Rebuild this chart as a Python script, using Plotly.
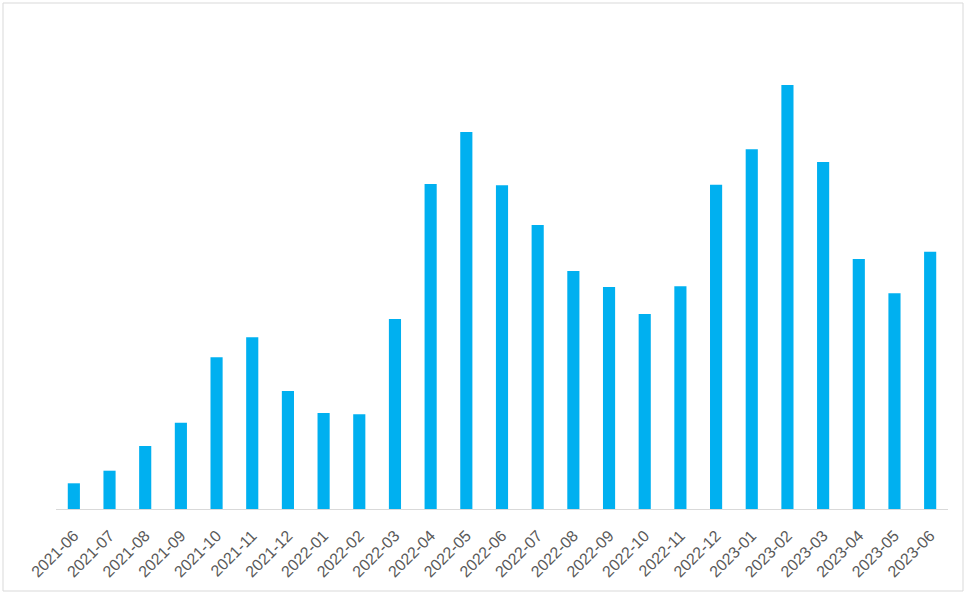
import plotly.graph_objects as go

# Monthly values (arbitrary units)
months = [
    "2021-06", "2021-07", "2021-08", "2021-09", "2021-10", "2021-11", "2021-12",
    "2022-01", "2022-02", "2022-03", "2022-04", "2022-05", "2022-06", "2022-07",
    "2022-08", "2022-09", "2022-10", "2022-11", "2022-12",
    "2023-01", "2023-02", "2023-03", "2023-04", "2023-05", "2023-06",
]
values = [
    25.7, 38.3, 63, 86.3, 151.7, 171.7, 118,
    96, 94.7, 190, 325, 377, 323.7, 284,
    238, 222, 195, 222.7, 324.3,
    359.7, 424, 347, 250, 215.7, 257.3,
]

W, H = 966, 596
L, R, T, B = 56, 18, 10, 87

fig = go.Figure()
fig.add_trace(go.Bar(x=months, y=values, marker_color="#00B0F0",
                     marker_line_width=0))

# light grey frame around the whole chart (pixel -> paper coords)
pw, ph = W - L - R, H - T - B
def px(x): return (x - L) / pw
def py(y): return (H - B - y) / ph
fig.add_shape(type="rect", xref="paper", yref="paper",
              x0=px(3), x1=px(963), y0=py(591), y1=py(3),
              line=dict(color="#d9d9d9", width=1))

fig.update_layout(
    width=W, height=H,
    margin=dict(l=L, r=R, t=T, b=B),
    paper_bgcolor="white", plot_bgcolor="white",
    bargap=0.66, showlegend=False,
    font=dict(family="Liberation Sans, Arial", color="#595959"),
)
fig.update_xaxes(type="category", tickangle=-45,
                 tickfont=dict(size=16, color="#595959"),
                 ticklabelstandoff=10,
                 showline=True, linecolor="#d9d9d9", linewidth=1,
                 ticks="", showgrid=False)
fig.update_yaxes(visible=False, range=[0, ph], showgrid=False)

fig.write_html("out.html", config={"displayModeBar": False},
               post_script="document.body.style.margin='0';")
